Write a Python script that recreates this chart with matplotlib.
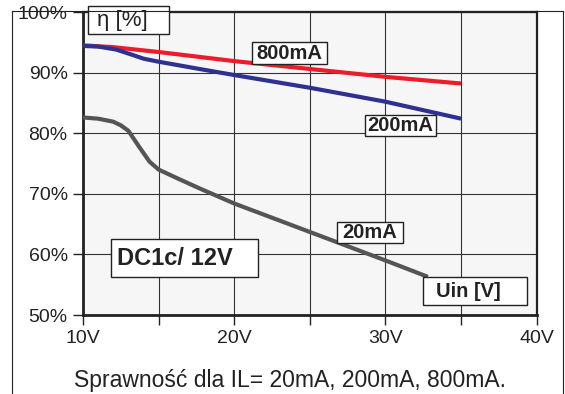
import matplotlib.pyplot as plt
from matplotlib.lines import Line2D
from matplotlib.patches import Rectangle

plt.rcParams['font.family'] = ['Liberation Sans', 'DejaVu Sans']

# readings from the chart (Uin in V, efficiency in %)
u_800 = [10, 12, 15, 20, 25, 30, 35]
eff_800 = [94.5, 94.2, 93.4, 91.9, 90.6, 89.3, 88.2]

u_200 = [10, 11, 12.2, 13.3, 14, 15, 17.7, 20, 25, 30, 35]
eff_200 = [94.4, 94.3, 93.8, 92.9, 92.3, 91.8, 90.6, 89.6, 87.5, 85.2, 82.4]

u_20 = [10, 11, 12, 12.5, 13, 13.7, 14.4, 15, 16.2, 17.7, 20, 25, 30, 32.8]
eff_20 = [82.6, 82.4, 81.9, 81.3, 80.4, 77.8, 75.3, 74.0, 72.6, 70.9, 68.4, 63.7, 59.0, 56.3]

x_ticks = [10, 20, 30, 40]
x_labels = ['10V', '20V', '30V', '40V']
y_ticks = [50, 60, 70, 80, 90, 100]
y_labels = ['50%', '60%', '70%', '80%', '90%', '100%']

fig = plt.figure(figsize=(5.65, 3.94), dpi=100)
ax = fig.add_axes([0.1469, 0.2005, 0.8031, 0.769])
ax.set_facecolor('#f6f6f6')

ax.plot(u_800, eff_800, color='#ec1c2a', lw=3, solid_capstyle='butt',
        solid_joinstyle='round', zorder=3)
ax.plot(u_200, eff_200, color='#2e3192', lw=3, solid_capstyle='butt',
        solid_joinstyle='round', zorder=3)
ax.plot(u_20, eff_20, color='#555555', lw=3, solid_capstyle='butt',
        solid_joinstyle='round', zorder=3)

ax.set_xlim(10, 40)
ax.set_ylim(50, 100)
ax.set_xticks(x_ticks)
ax.set_xticklabels(x_labels)
ax.set_xticks([15, 25, 35], minor=True)
ax.set_yticks(y_ticks)
ax.set_yticklabels(y_labels)
ax.tick_params(axis='both', which='both', direction='out', length=7, width=1,
               labelsize=14, colors='#222222', pad=4)
ax.grid(True, which='both', color='#333333', lw=0.8)
ax.set_axisbelow(True)
for side in ['left', 'bottom']:
    ax.spines[side].set_linewidth(2)
for side in ['top', 'right']:
    ax.spines[side].set_linewidth(1.6)
for sp in ax.spines.values():
    sp.set_color('#222222')


def label(x0, x1, y0, y1, text, tx=None, size=14.5, weight='bold'):
    ax.add_patch(Rectangle((x0, y0), x1 - x0, y1 - y0, fc='white', ec='#222222',
                           lw=1, zorder=5, clip_on=False))
    if tx is None:
        ax.text((x0 + x1) / 2, (y0 + y1) / 2, text, fontsize=size, fontweight=weight,
                ha='center', va='center', color='#222222', zorder=6)
    else:
        ax.text(tx, (y0 + y1) / 2, text, fontsize=size, fontweight=weight,
                ha='left', va='center', color='#222222', zorder=6, clip_on=False)


label(21.18, 26.14, 91.42, 95.05, '800mA')
label(28.65, 33.35, 79.5, 83.0, '200mA')
label(26.8, 31.16, 61.88, 65.35, '20mA')
label(32.49, 39.37, 51.65, 56.27, 'Uin [V]', tx=33.35)
label(11.85, 21.57, 56.27, 62.54, 'DC1c/ 12V', tx=12.25, size=17)
label(10.33, 15.69, 96.37, 100.99, 'η [%]', tx=10.95, size=16, weight='normal')

fig.text(0.513, 0.033, 'Sprawność dla IL= 20mA, 200mA, 800mA.', fontsize=16.5,
         ha='center', va='center', color='#222222')

# outer frame
W, H = 565, 394
fig.add_artist(Line2D([12 / W, 12 / W], [0, 1 - 11 / H], color='#222222', lw=0.8))
fig.add_artist(Line2D([563 / W, 563 / W], [0, 1 - 11 / H], color='#222222', lw=0.8))
fig.add_artist(Line2D([12 / W, 563 / W], [1 - 11 / H, 1 - 11 / H], color='#222222', lw=0.8))

fig.savefig('out.png', dpi=100, facecolor='white')
